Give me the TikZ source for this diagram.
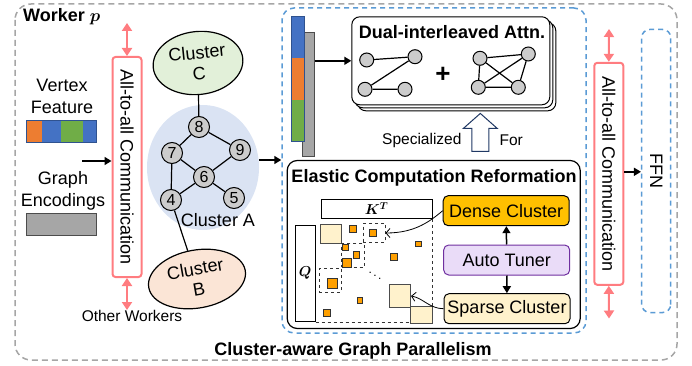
\documentclass[tikz,border=0pt]{standalone}
\usepackage{amsmath}
\usepackage{bm}
\usepackage{fontspec}
\setmainfont{Liberation Sans}
\usetikzlibrary{arrows.meta,positioning,shapes.geometric,shapes.arrows,shadows}

\definecolor{commred}{HTML}{FF7C80}
\definecolor{dashblue}{HTML}{5B9BD5}
\definecolor{dashgray}{HTML}{A6A6A6}
\definecolor{featorange}{HTML}{ED7D31}
\definecolor{featblue}{HTML}{4472C4}
\definecolor{featgreen}{HTML}{70AD47}
\definecolor{featedge}{HTML}{2F528F}
\definecolor{clusa}{HTML}{DAE3F3}
\definecolor{clusb}{HTML}{FBE5D6}
\definecolor{clusc}{HTML}{E2F0D9}
\definecolor{densegold}{HTML}{FFC000}
\definecolor{sparsecream}{HTML}{FFF2CC}
\definecolor{tunerfill}{HTML}{EADCF8}
\definecolor{tunerline}{HTML}{7030A0}
\definecolor{blockorange}{HTML}{FFA000}
\definecolor{hollownavy}{HTML}{203864}

\begin{document}
\begin{tikzpicture}[x=1pt,y=-1pt,
  every node/.style={font=\fontsize{18}{22}\selectfont},
  boldtxt/.style={font=\bfseries\fontsize{18}{22}\selectfont},
  smalltxt/.style={font=\fontsize{15.5}{18}\selectfont},
  comm/.style={draw=commred,line width=2pt,fill=white,rounded corners=3pt,rotate=-90,minimum height=29pt,inner sep=0pt},
  pinkarr/.style={commred,line width=2pt,arrows={Triangle[length=8pt,width=10pt]-Triangle[length=8pt,width=10pt]}},
  blk/.style={line width=1.5pt,-{Triangle[length=7pt,width=8pt]}},
  vtx/.style={circle,draw,line width=1pt,fill=gray!40,minimum size=21pt,inner sep=0pt,font=\fontsize{16}{18}\selectfont},
  svtx/.style={circle,draw,line width=1pt,fill=gray!40,minimum size=14pt,inner sep=0pt},
  clus/.style={ellipse,draw,line width=1.2pt,align=center,inner sep=0pt,font=\fontsize{18}{21}\selectfont},
  tbox/.style={draw,rounded corners=5pt,line width=1pt,minimum width=126pt,minimum height=30pt},
  osq/.style={draw=black!80,fill=blockorange,line width=0.6pt,inner sep=0pt,minimum size=#1},
  lsq/.style={draw=black!70,fill=sparsecream,line width=0.8pt,inner sep=0pt},
  dbox/.style={draw=black!80,dashed,line width=0.8pt,inner sep=0pt},
  barb/.style={line width=0.8pt,-{Straight Barb[length=4pt,width=9pt]}}
]
\useasboundingbox (0,0) rectangle (692,366);

% worker frame
\draw[dashgray,line width=1.5pt,dash pattern=on 6pt off 4pt,rounded corners=16pt] (15,4) rectangle (677,360);
\node[boldtxt,fill=white,inner sep=1pt,anchor=west] (worker) at (22,17) {Worker $\bm{p}$};
\node[boldtxt] (cagp) at (353,351) {Cluster-aware Graph Parallelism};

% inputs
\node[align=center] (vfeat) at (62,96) {Vertex\\Feature};
\foreach \xa/\xb/\col in {26.7/41.7/featorange,41.7/61/featblue,61/83.3/featgreen,83.3/96.7/featblue}
  \fill[\col] (\xa,121) rectangle (\xb,143);
\draw[featedge,line width=1pt] (26.7,121) rectangle (96.7,143);
\node[align=center] (genc) at (63,191) {Graph\\Encodings};
\node[draw=black!70,fill=dashgray,line width=1pt,minimum width=70pt,minimum height=21.7pt,inner sep=0pt] (gbarin) at (61.7,224.2) {};

% first all-to-all
\node[comm,minimum width=220pt] (comm1) at (127,167) {All-to-all Communication};
\coordinate (up1) at (127,23);
\coordinate (dn1) at (127,310);
\draw[pinkarr] (up1) -- (comm1.west);
\draw[pinkarr] (comm1.east) -- (dn1);
\node[smalltxt,below=-3pt of dn1,xshift=5pt] (others) {Other Workers};
\coordinate (in1) at (82,161);
\draw[blk] (in1) -- (in1 -| comm1.south);

% clusters
\node[ellipse,fill=clusa,minimum width=112pt,minimum height=125pt,inner sep=0pt] (clA) at (203,167.5) {};
\node (labA) at (218,220) {Cluster A};
\node[clus,fill=clusc,rotate=6,minimum width=90pt,minimum height=63pt] (clC) at (198,63) {Cluster\\C};
\node[clus,fill=clusb,rotate=10,minimum width=98pt,minimum height=58pt] (clB) at (197,279) {Cluster\\B};
\foreach \n/\x/\y in {8/199/127,7/172/153,9/240/150,6/204/177,4/171/200,5/234/198}
  \node[vtx] (v\n) at (\x,\y) {\n};
\draw[line width=1.2pt] (v8) -- (v7) (v8) -- (v9) (v7) -- (v6) (v7) -- (v4)
  (v9) -- (v6) (v6) -- (v4) (v6) -- (v5) (v8) -- (clC) (v4) -- (clB);

% attention module
\node[draw=dashblue,dash pattern=on 5pt off 4pt,line width=1.5pt,rounded corners=12pt,minimum width=304pt,minimum height=325pt] (attmod) at (434,170.5) {};
\draw[blk] ([yshift=7.5pt]clA.east) -- ([yshift=7.5pt]clA.east -| attmod.west);

\node[draw=black!70,fill=dashgray,line width=1pt,minimum width=12pt,minimum height=124pt,inner sep=0pt] (kvbar) at (308.3,94.2) {};
\foreach \ya/\yb/\col in {16.7/58/featblue,58/100/featorange,100/141.7/featgreen}
  \fill[\col] (291.7,\ya) rectangle (304.3,\yb);
\node[draw=featedge,line width=1pt,minimum width=12.6pt,minimum height=125pt,inner sep=0pt] (qbar) at (298,79.2) {};

\node[draw,fill=white,line width=1pt,rounded corners=8pt,minimum width=198pt,minimum height=88pt,
  double copy shadow={shadow xshift=3pt,shadow yshift=-3pt}] (attn) at (450.8,60.8) {};
\draw[blk] (kvbar.east |- attn.west) -- (attn.west);
\node[boldtxt] (attnt) at (452,32) {Dual-interleaved Attn.};
\node[svtx] (a1) at (366.7,60) {};
\node[svtx] (a2) at (415,56.7) {};
\node[svtx] (a3) at (365,89.3) {};
\node[svtx] (a4) at (405,89.3) {};
\draw[line width=1.2pt] (a1) -- (a2) (a2) -- (a3) (a3) -- (a4);
\node[font=\bfseries\fontsize{26}{26}\selectfont] (plus) at (443,75) {+};
\node[svtx] (b1) at (480,58.3) {};
\node[svtx] (b2) at (528.3,54) {};
\node[svtx] (b3) at (478.3,87.3) {};
\node[svtx] (b4) at (518.3,87.3) {};
\draw[line width=1.2pt] (b1) -- (b2) (b1) -- (b3) (b1) -- (b4) (b2) -- (b3) (b2) -- (b4) (b3) -- (b4);

\node[single arrow,draw=hollownavy,fill=white,line width=1pt,rotate=90,minimum height=38pt,
  inner xsep=0pt,inner ysep=8pt,single arrow head extend=8.5pt,single arrow tip angle=97] (spec) at (480.3,136.2) {};
\node[smalltxt,anchor=east] (sptxt) at (465,140.7) {Specialized};
\node[smalltxt,anchor=west] (fortxt) at (496,140.7) {For};

% elastic computation reformation
\node[draw,line width=1.2pt,rounded corners=10pt,minimum width=293pt,minimum height=168pt] (ecr) at (433.7,244.5) {};
\node[boldtxt] (ecrt) at (434,178) {Elastic Computation Reformation};
\node[tbox,fill=densegold] (dense) at (506.2,210.7) {Dense Cluster};
\node[tbox,draw=tunerline,fill=tunerfill] (tuner) at (506.7,260) {Auto Tuner};
\node[tbox,fill=sparsecream] (sparse) at (507,308.7) {Sparse Cluster};
\draw[blk] (tuner) -- (dense);
\draw[blk] (tuner) -- (sparse);

\node[draw,line width=1pt,minimum width=111pt,minimum height=19pt,inner sep=0pt,font=\fontsize{14}{16}\selectfont] (kt) at (376.7,208.8) {$\bm{K^{T}}$};
\node[draw,line width=1pt,minimum width=20pt,minimum height=96.7pt,inner sep=0pt,font=\fontsize{14}{16}\selectfont] (qq) at (305,273.4) {$\bm{Q}$};
\draw[dbox] (kt.south east) -- (kt.south east |- 0,306.7);
\draw[dbox] (qq.south east) -- (qq.south east -| 410.7,0);

\node[lsq,minimum width=21.7pt,minimum height=19.3pt] (blk1) at (330.8,233.7) {};
\node[lsq,minimum width=21.7pt,minimum height=23.4pt] (blk2) at (399.8,296) {};
\node[lsq,minimum width=22pt,minimum height=16.5pt] (blk3) at (421.7,315) {};
\node[dbox,minimum width=21.7pt,minimum height=19.4pt] (grp1) at (374.2,233) {};
\node[dbox,minimum width=22.3pt,minimum height=24pt] (grp2) at (352.8,255.3) {};
\node[dbox,minimum width=21.7pt,minimum height=24pt] (grp3) at (330.2,280.3) {};
\foreach \x/\y/\s [count=\i] in {353/229/6.5,372.7/232.8/7,345.3/247.3/6.5,356.2/255/6.5,347/262.8/9.5,
  394/257/6.5,418.3/243.8/5.5,332/283.2/10,359.8/300.5/5.5,326.5/312.7/7}
  \node[osq=\s pt] (o\i) at (\x,\y) {};
\node[font=\fontsize{12}{12}\selectfont] (dots) at (375,273) {$\ddots$};
\draw[barb] (dense.west) .. controls +(-12,10) and +(30,0) .. (grp1.east);
\draw[barb] (sparse.west) .. controls +(-14,0) and +(12,2) .. (blk2.east);

% second all-to-all and FFN
\node[comm,minimum width=222pt] (comm2) at (608.8,173.8) {All-to-all Communication};
\coordinate (up2) at (609,29);
\coordinate (dn2) at (609,318.5);
\draw[pinkarr] (up2) -- (comm2.west);
\draw[pinkarr] (comm2.east) -- (dn2);
\node[draw=dashblue,dash pattern=on 5pt off 4pt,line width=1.5pt,rounded corners=8pt,rotate=-90,
  minimum width=283pt,minimum height=29pt] (ffn) at (656.2,171) {FFN};
\draw[blk] ([yshift=2pt]comm2.north) -- ([yshift=2pt]comm2.north -| ffn.south);
\end{tikzpicture}
\end{document}
